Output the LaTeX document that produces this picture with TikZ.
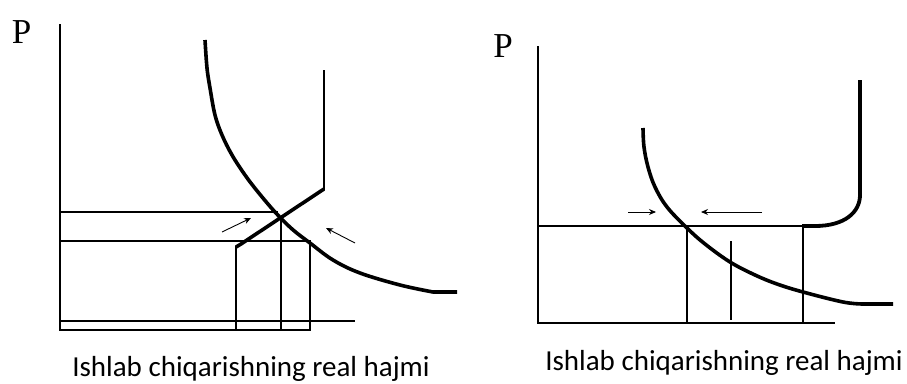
\documentclass[tikz,border=0pt]{standalone}
\usepackage{fontspec}
\setmainfont{Liberation Serif}
\newfontfamily\labelfont{Carlito}
\usetikzlibrary{arrows.meta}
\tikzset{
  thinline/.style={line width=2.2pt, line cap=rect},
  curveline/.style={line width=3.6pt, line cap=butt, line join=round},
  moveline/.style={line width=0.9pt, -{Stealth[length=7pt,width=6pt]}},
  plabel/.style={font=\fontsize{35}{35}\selectfont, anchor=base, inner sep=0pt},
  axlabel/.style={font=\labelfont\fontsize{29}{30}\selectfont, anchor=base, inner sep=0pt}
}
\begin{document}
\begin{tikzpicture}[x=1pt,y=-1pt]
\useasboundingbox (0,0) rectangle (907,383);
% ---------------- left diagram ----------------
\node[plabel] (pL) at (21.5,43) {P};
\draw[thinline] (60,25) -- (60,330) -- (310,330) -- (310,241);
\draw[thinline] (60,321) -- (354,321);
\draw[thinline] (60,212) -- (277,212);
\draw[thinline] (60,241) -- (310,241);
\draw[thinline] (236,330) -- (236,247);
\draw[thinline] (281,330) -- (281,217);
% supply
\draw[curveline] (236,247) -- (241,244) -- (324,189);
\draw[line width=2.4pt] (324,190) -- (324,70);
% demand
\draw[curveline] plot[smooth, tension=0.6] coordinates {(205,40) (207,68) (210,88) (215,115) (222,135) (232,155) (245,175) (258,192) (275,212) (292,229) (310,243) (333,260) (360,273) (400,285) (433,292)} -- (457,292);
% arrows
\coordinate (a1s) at (222,232); \coordinate (a1e) at (251,218);
\coordinate (a2s) at (355,243); \coordinate (a2e) at (326,228);
\draw[moveline] (a1s) -- (a1e);
\draw[moveline] (a2s) -- (a2e);
\node[axlabel] (xL) at (251,376) {Ishlab chiqarishning real hajmi};
% ---------------- right diagram ----------------
\node[plabel] (pR) at (503,57) {P};
\draw[thinline] (538,47) -- (538,323) -- (834,323);
\draw[thinline] (538,226) -- (803,226);
\draw[thinline] (687,226) -- (687,323);
\draw[thinline] (803,226) -- (803,323);
\draw[thinline] (731,242) -- (731,319);
% supply
\draw[line width=3.8pt, line join=round] (802,226) -- (815,226) .. controls (845,226) and (860,212) .. (860,195) -- (860,80);
% demand
\draw[curveline] plot[smooth, tension=0.6] coordinates {(643,128) (644,147) (648,167) (655,187) (667,207) (687,228) (705,244) (730,262) (755,275) (777,284) (803,292) (843,302) (863,304)} -- (893,304);
% arrows
\coordinate (b1s) at (628,212); \coordinate (b1e) at (656,212);
\coordinate (b2s) at (762,212); \coordinate (b2e) at (701,212);
\draw[moveline] (b1s) -- (b1e);
\draw[moveline] (b2s) -- (b2e);
\node[axlabel] (xR) at (724,370) {Ishlab chiqarishning real hajmi};
\end{tikzpicture}
\end{document}
